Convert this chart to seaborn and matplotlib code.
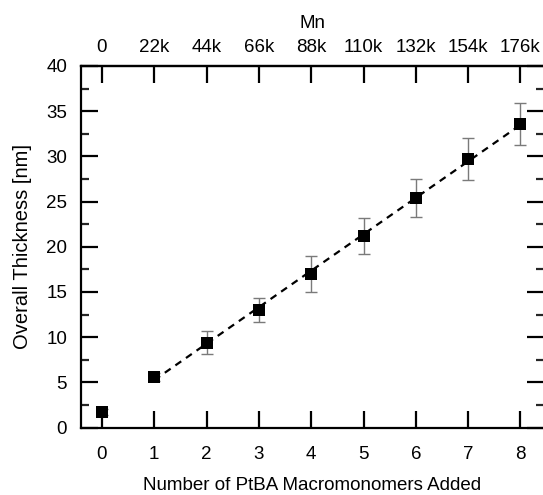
import numpy as np
import pandas as pd
import seaborn as sns
import matplotlib.pyplot as plt
from matplotlib.ticker import MultipleLocator

sns.set_style("ticks")
plt.rcParams['font.family'] = ['Liberation Sans', 'DejaVu Sans']
plt.rcParams['text.color'] = 'black'
plt.rcParams['axes.labelcolor'] = 'black'

# data
n_added = [0, 1, 2, 3, 4, 5, 6, 7, 8]
thickness = [1.7, 5.6, 9.4, 13.0, 17.0, 21.2, 25.4, 29.7, 33.6]
thickness_err = [0.3, 0.4, 1.28, 1.35, 2.0, 2.0, 2.15, 2.3, 2.3]
mn_labels = ["0", "22k", "44k", "66k", "88k", "110k", "132k", "154k", "176k"]

df = pd.DataFrame({"n": n_added, "t": thickness, "err": thickness_err})
fit = df[df["n"] >= 1]

fig = plt.figure(figsize=(5.43, 4.95), dpi=100)
ax = fig.add_axes([81 / 543, (495 - 427.5) / 495, (544 - 81) / 543, (427.5 - 66) / 495])

# error bars (grey, thin)
ax.errorbar(df["n"], df["t"], yerr=df["err"], fmt="none", ecolor="#7a7a7a",
            elinewidth=1.0, capsize=4, capthick=1.0, zorder=2)

# dashed linear fit through points 1..8
sns.regplot(data=fit, x="n", y="t", ax=ax, scatter=False, ci=None,
            line_kws=dict(color="black", lw=1.6, ls=(0, (3.2, 2.6)), zorder=3))

# square markers
sns.scatterplot(data=df, x="n", y="t", ax=ax, marker="s", s=80, color="black",
                edgecolor="black", linewidth=0, zorder=4)

ax.set_xlim(-0.4, 8.45)
ax.set_ylim(0, 40)
ax.set_xticks(n_added)
ax.yaxis.set_major_locator(MultipleLocator(5))
ax.yaxis.set_minor_locator(MultipleLocator(2.5))

for s in ax.spines.values():
    s.set_linewidth(1.6)
    s.set_color("black")

ax.tick_params(axis="both", which="major", direction="in", length=12, width=1.6,
               labelsize=13.5, colors="black", pad=10)
ax.tick_params(axis="y", which="minor", direction="in", length=6, width=1.6)
ax.tick_params(axis="y", which="both", right=True)
ax.tick_params(axis="x", which="major", pad=13)

ax.set_xlabel("Number of PtBA Macromonomers Added", fontsize=13.5, labelpad=10.5)
ax.set_ylabel("Overall Thickness [nm]", fontsize=14.5, labelpad=10)

top = ax.secondary_xaxis("top")
top.set_xticks(n_added)
top.set_xticklabels(mn_labels)
top.tick_params(direction="in", length=12, width=1.6, labelsize=13.5,
                colors="black", pad=7)
top.spines["top"].set_linewidth(1.6)
top.set_xlabel("Mn", fontsize=13.5, labelpad=8)

fig.savefig("out.png", dpi=100)
